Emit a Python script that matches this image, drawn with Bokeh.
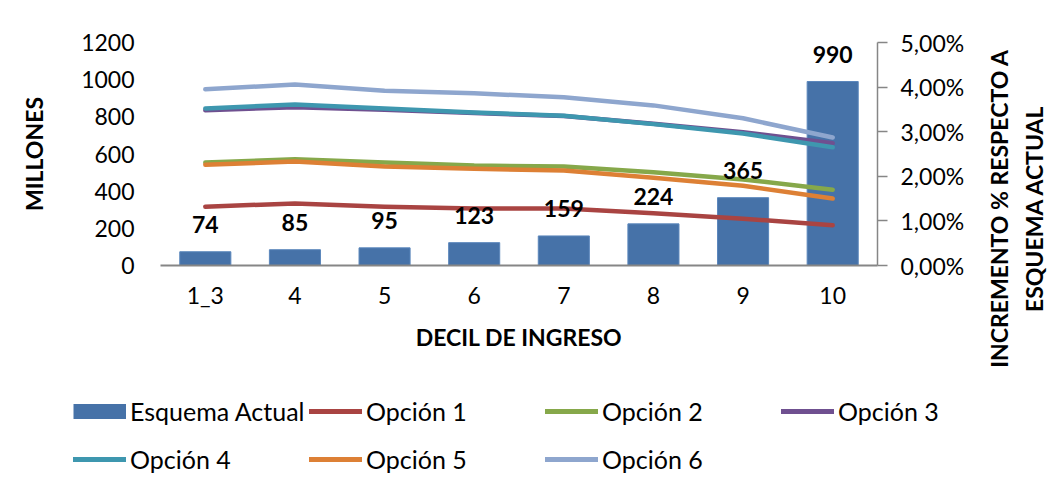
import math
from bokeh.plotting import figure
from bokeh.layouts import column, row
from bokeh.models import (Range1d, LinearAxis, FactorRange, ColumnDataSource, FixedTicker,
                          Legend, LegendItem, LabelSet, Label)
from bokeh.core.properties import value
from bokeh.embed import file_html
from bokeh.resources import INLINE

categories = ["1_3", "4", "5", "6", "7", "8", "9", "10"]
esquema_actual = [74, 85, 95, 123, 159, 224, 365, 990]
opcion_1 = [1.32, 1.39, 1.32, 1.28, 1.28, 1.17, 1.05, 0.90]
opcion_2 = [2.31, 2.38, 2.31, 2.24, 2.22, 2.09, 1.93, 1.70]
opcion_3 = [3.48, 3.55, 3.49, 3.42, 3.35, 3.18, 2.99, 2.74]
opcion_4 = [3.52, 3.61, 3.52, 3.43, 3.36, 3.17, 2.96, 2.65]
opcion_5 = [2.26, 2.33, 2.22, 2.17, 2.13, 1.97, 1.79, 1.50]
opcion_6 = [3.95, 4.06, 3.92, 3.86, 3.77, 3.59, 3.30, 2.87]
left_ticks = [0, 200, 400, 600, 800, 1000, 1200]
right_ticks = [0, 1, 2, 3, 4, 5]
right_tick_labels = ["0,00%", "1,00%", "2,00%", "3,00%", "4,00%", "5,00%"]
series_names = ["Opción 1", "Opción 2", "Opción 3", "Opción 4", "Opción 5", "Opción 6"]
series_values = [opcion_1, opcion_2, opcion_3, opcion_4, opcion_5, opcion_6]
series_colors = ["#A94442", "#86A84A", "#6F5090", "#3E97AF", "#DD8035", "#8EA6CE"]
bar_name = "Esquema Actual"
bar_color = "#4672A8"
x_title = "DECIL DE INGRESO"
y_title = "MILLONES"
y2_title_lines = ["INCREMENTO % RESPECTO A", "ESQUEMA ACTUAL"]

FONT = "Lato"
FS = "23px"
LFS = "25px"


def no_align(fig):
    try:
        fig.frame_align = False
    except Exception:
        pass


# ---------------- main chart ----------------
p = figure(width=975, height=380, x_range=FactorRange(*categories),
           y_range=Range1d(0, 1200), output_backend="svg", toolbar_location=None,
           min_border_left=160, min_border_right=98, min_border_top=42, min_border_bottom=115)
no_align(p)
p.extra_y_ranges = {"pct": Range1d(0, 5)}
p.grid.visible = False
p.outline_line_color = None
p.background_fill_color = "white"
p.border_fill_color = "white"

src = ColumnDataSource(dict(cat=categories, val=esquema_actual,
                            lbl=[str(v) for v in esquema_actual]))
bars = p.vbar(x="cat", top="val", width=0.57, source=src, fill_color=bar_color,
              line_color="#5B87BC", line_width=1)

for name, vals, col in zip(series_names, series_values, series_colors):
    p.line(categories, vals, y_range_name="pct", line_color=col, line_width=4.5,
           line_join="round", line_cap="round")

labels = LabelSet(x="cat", y="val", text="lbl", source=src, text_align="center",
                  text_baseline="alphabetic", y_offset=19, text_font=value(FONT),
                  text_font_size=value(FS), text_font_style="bold", text_color="black")
p.add_layout(labels)

ya = p.yaxis[0]
ya.ticker = FixedTicker(ticks=left_ticks)
ya.axis_line_color = None
ya.major_tick_line_color = None
ya.minor_tick_line_color = None
ya.major_label_standoff = 20
ya.major_label_text_font = FONT
ya.major_label_text_font_size = FS
ya.major_label_text_color = "black"
ya.axis_label = y_title
ya.axis_label_text_font = FONT
ya.axis_label_text_font_size = FS
ya.axis_label_text_font_style = "bold"
ya.axis_label_text_color = "black"
ya.axis_label_standoff = 30

xa = p.xaxis[0]
xa.axis_line_color = "#868686"
xa.axis_line_width = 2
xa.major_tick_line_color = None
xa.minor_tick_line_color = None
xa.major_label_standoff = 9
xa.major_label_text_font = FONT
xa.major_label_text_font_size = FS
xa.major_label_text_color = "black"
xa.axis_label = x_title
xa.axis_label_text_font = FONT
xa.axis_label_text_font_size = FS
xa.axis_label_text_font_style = "bold"
xa.axis_label_text_color = "black"
xa.axis_label_standoff = 11

ra = LinearAxis(y_range_name="pct", ticker=FixedTicker(ticks=right_ticks),
                major_label_overrides={t: l for t, l in zip(right_ticks, right_tick_labels)})
ra.axis_line_color = "#868686"
ra.axis_line_width = 1.5
ra.major_tick_line_color = "#868686"
ra.major_tick_line_width = 1.5
ra.major_tick_out = 10
ra.major_tick_in = 0
ra.minor_tick_line_color = None
ra.major_label_standoff = 13
ra.major_label_text_font = FONT
ra.major_label_text_font_size = FS
ra.major_label_text_color = "black"
p.add_layout(ra, "right")

# ---------------- right axis title ----------------
tw, th = 1058 - 975, 380
tf = figure(width=tw, height=th, x_range=Range1d(0, tw), y_range=Range1d(0, th),
            output_backend="svg", toolbar_location=None, x_axis_type=None, y_axis_type=None,
            min_border=0)
no_align(tf)
tf.grid.visible = False
tf.outline_line_color = None
for i, t in enumerate(y2_title_lines):
    tf.add_layout(Label(x=23 + 35 * i, y=th - 208, text=t, angle=math.pi / 2,
                        text_align="center", text_baseline="middle", text_font=FONT,
                        text_font_size=FS, text_font_style="bold", text_color="black"))

# ---------------- legend ----------------
lh = 491 - 380
lf = figure(width=1058, height=lh, x_range=Range1d(0, 1), y_range=Range1d(0, 1),
            output_backend="svg", toolbar_location=None, x_axis_type=None, y_axis_type=None,
            min_border=0)
no_align(lf)
lf.grid.visible = False
lf.outline_line_color = None

all_names = [bar_name] + series_names
all_colors = [bar_color] + series_colors
all_items = []
for i, (name, col) in enumerate(zip(all_names, all_colors)):
    dummy = ColumnDataSource(dict(x=[-5, -4], y=[-5, -5]))  # outside the view: legend swatch only
    if i == 0:
        r = lf.line(x="x", y="y", source=dummy, line_color=col, line_width=15, line_cap="butt")
    else:
        r = lf.line(x="x", y="y", source=dummy, line_color=col, line_width=5, line_cap="round")
    all_items.append(LegendItem(label=name, renderers=[r]))

for items, loc in ((all_items[:4], (73, 65)), (all_items[4:], (73, 17))):
    lg = Legend(items=items, orientation="horizontal", location=loc,
                glyph_width=53, glyph_height=30, label_standoff=4, label_width=179,
                label_height=30, spacing=0, padding=0, margin=0,
                border_line_color=None, background_fill_alpha=0,
                label_text_font=FONT, label_text_font_size=LFS, label_text_color="black")
    lf.add_layout(lg, "center")

layout = column(row(p, tf), lf)
open("out.html", "w").write(file_html(layout, INLINE))
